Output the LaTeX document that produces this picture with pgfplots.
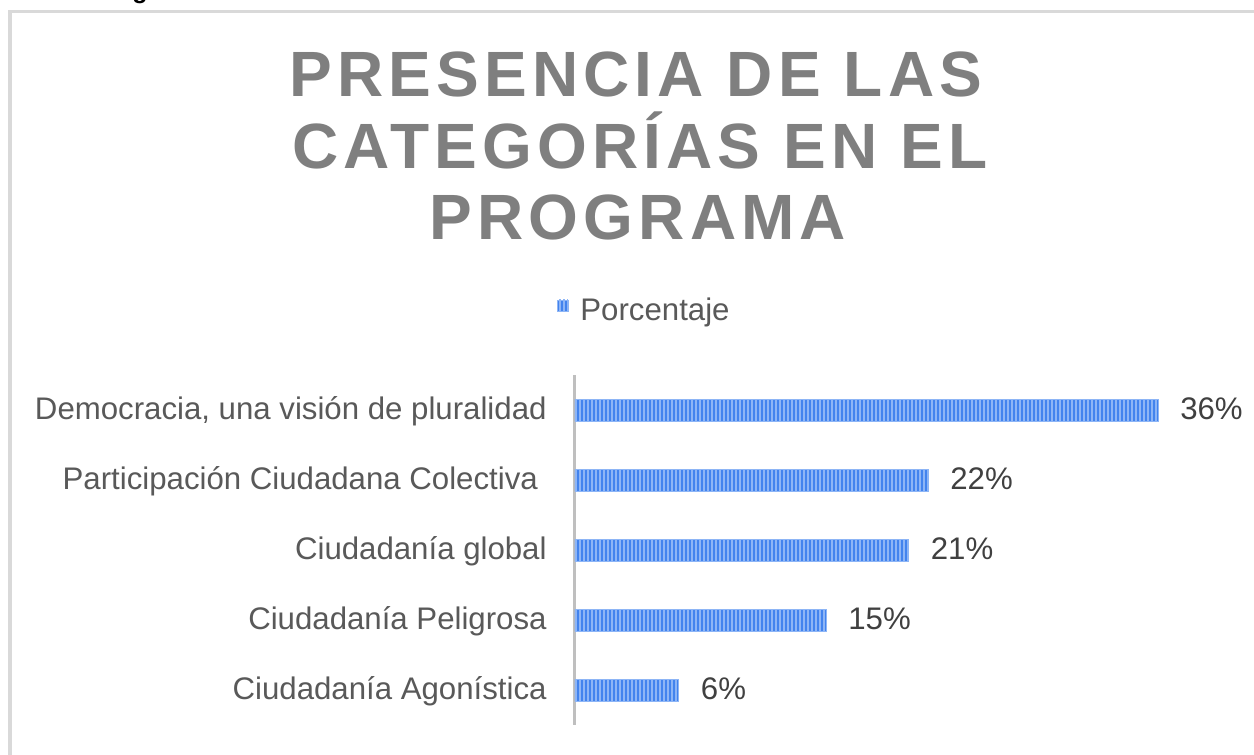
\documentclass[border=0pt]{standalone}
\usepackage{fontspec}
\setmainfont{Liberation Sans}
\newfontfamily\titlefont{Liberation Sans}[LetterSpace=8]
\usepackage{pgfplots}
\pgfplotsset{compat=1.18}
\usetikzlibrary{patterns.meta}
\definecolor{barblue}{HTML}{4283EE}
\definecolor{barlight}{HTML}{8DB5F6}
\definecolor{framegray}{HTML}{D9D9D9}
\definecolor{axisgray}{HTML}{BFBFBF}
\definecolor{titlegray}{HTML}{7F7F7F}
\definecolor{labgray}{HTML}{595959}
\definecolor{valgray}{HTML}{404040}
\newcommand\lab{\fontsize{15.6}{18}\selectfont}
\begin{document}
\begin{tikzpicture}
\clip (0,0) rectangle (627pt,-377.5pt);
\fill[white] (0,0) rectangle (627pt,-377.5pt);
\draw[framegray, line width=1.75pt] (5pt,-400pt) -- (5pt,-5.75pt) -- (700pt,-5.75pt);
\node[anchor=base, inner sep=0pt, font=\bfseries\fontsize{12.5}{14}\selectfont] at (70pt,1pt) {g};
\node[anchor=base, inner sep=0pt, text=titlegray, font=\titlefont\bfseries\fontsize{32}{36}\selectfont] at (318pt,-48pt) {PRESENCIA DE LAS};
\node[anchor=base, inner sep=0pt, text=titlegray, font=\titlefont\bfseries\fontsize{32}{36}\selectfont] at (320pt,-84pt) {CATEGORÍAS EN EL};
\node[anchor=base, inner sep=0pt, text=titlegray, font=\titlefont\bfseries\fontsize{32}{36}\selectfont] at (319pt,-119.5pt) {PROGRAMA};
\begin{axis}[
  at={(287.5pt,-362.5pt)}, anchor=south west,
  scale only axis, width=291.5pt, height=175pt,
  xmin=0, xmax=36, ymin=0.5, ymax=5.5, y dir=reverse,
  axis y line*=left, axis x line=none,
  y axis line style={axisgray, line width=1.5pt, -},
  ytick={1,2,3,4,5},
  yticklabels={Democracia{,} una visión de pluralidad, Participación Ciudadana Colectiva\hspace*{0.28em}, Ciudadanía global, Ciudadanía Peligrosa, Ciudadanía Agonística},
  major tick length=0pt,
  yticklabel style={anchor=base east, inner sep=0pt, xshift=-14pt, yshift=-4.5pt, text=labgray, font=\lab},
  xbar, bar width=11pt,
  nodes near coords, point meta=explicit symbolic,
  nodes near coords style={anchor=base west, inner sep=0pt, xshift=11pt, yshift=-4.5pt, text=valgray, font=\lab},
  legend style={at={(axis description cs:-0.0309,1.183)}, anchor=west, draw=none, fill=none, inner sep=0pt, outer sep=0pt, nodes={inner sep=0pt, text=labgray, font=\lab}},
  legend image code/.code={\fill[barblue, draw=none] (0pt,0pt) rectangle (5.25pt,5.5pt);
     \fill[draw=none, pattern={Lines[angle=90,distance=1.75pt,line width=0.45pt]}, pattern color=barlight] (0pt,0pt) rectangle (5.25pt,5.5pt);
     \pgfpathmoveto{\pgfqpoint{11.5pt}{0pt}}\pgfusepath{discard}},
  clip=false,
]
\addplot[xbar, fill=barblue, draw=barlight, line width=0.3pt,
  postaction={pattern={Lines[angle=90,distance=2pt,line width=0.7pt]}, pattern color=barlight}]
  coordinates {(36.0,1) [36\%] (21.8,2) [22\%] (20.6,3) [21\%] (15.5,4) [15\%] (6.4,5) [6\%]};
\addlegendentry{Porcentaje}
\end{axis}
\end{tikzpicture}
\end{document}
